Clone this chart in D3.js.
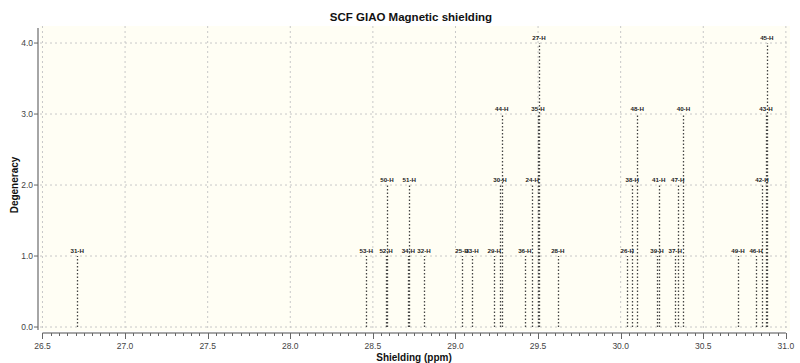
<!DOCTYPE html>
<html><head><meta charset="utf-8">
<script src="https://cdn.jsdelivr.net/npm/d3@7"></script>
<style>body{margin:0;background:#fff}svg{display:block;font-family:"Liberation Sans",Arial,sans-serif}</style>
</head><body><svg id="c" width="800" height="363"></svg>
<script>
const labels = ["31-H","53-H","52-H","50-H","34-H","51-H","32-H","25-H","33-H","29-H","30-H","44-H","36-H","24-H","35-H","27-H","28-H","26-H","38-H","48-H","39-H","41-H","37-H","47-H","40-H","49-H","46-H","42-H","43-H","45-H"];
const shielding = [26.71,28.46,28.58,28.585,28.715,28.72,28.81,29.04,29.10,29.235,29.27,29.28,29.42,29.465,29.50,29.505,29.62,30.04,30.07,30.10,30.22,30.23,30.33,30.345,30.38,30.71,30.82,30.855,30.88,30.885];
const degeneracy = [1,1,1,2,1,2,1,1,1,1,2,3,1,2,3,4,1,1,2,3,1,2,1,2,3,1,1,2,3,4];
const xTicks = [26.5,27.0,27.5,28.0,28.5,29.0,29.5,30.0,30.5,31.0];
const yTicks = [0,1,2,3,4];

const svg = d3.select("#c");
const L=40,R=790,T=26,B=331;
const x = d3.scaleLinear().domain([26.485,31.025]).range([L,R]);
const y = d3.scaleLinear().domain([-0.056,4.24]).range([B,T]);

svg.append("rect").attr("x",L).attr("y",T).attr("width",R-L).attr("height",B-T).attr("fill","#fffef4");

// grid
const g = svg.append("g");
g.selectAll("line.vx").data(xTicks).join("line")
 .attr("x1",d=>x(d)).attr("x2",d=>x(d)).attr("y1",T).attr("y2",B)
 .attr("stroke","#c8c8c8").attr("stroke-dasharray","2,3");
g.selectAll("line.hy").data(yTicks).join("line")
 .attr("x1",L).attr("x2",R).attr("y1",d=>y(d)).attr("y2",d=>y(d))
 .attr("stroke","#c8c8c8").attr("stroke-dasharray","2,3");

// peaks
const peaks = labels.map((l,i)=>({l, s:shielding[i], d:degeneracy[i]}));
svg.append("g").selectAll("line").data(peaks).join("line")
 .attr("x1",d=>Math.round(x(d.s))+0.5).attr("x2",d=>Math.round(x(d.s))+0.5)
 .attr("y1",y(0)).attr("y2",d=>y(d.d))
 .attr("stroke","#444").attr("stroke-width",1.3).attr("stroke-dasharray","1.5,2");
svg.append("g").selectAll("text").data(peaks).join("text")
 .attr("x",d=>x(d.s)).attr("y",d=>y(d.d)-3)
 .attr("text-anchor","middle").attr("font-size",6.2).attr("font-weight","bold").attr("fill","#222")
 .text(d=>d.l);

// y axis
const ya = svg.append("g").attr("transform","translate(38,0)");
ya.append("line").attr("x1",0).attr("x2",0).attr("y1",28).attr("y2",330).attr("stroke","#888").attr("stroke-width",1.5);
ya.selectAll("line.t").data(yTicks).join("line").attr("class","t")
 .attr("x1",-4).attr("x2",0).attr("y1",d=>y(d)).attr("y2",d=>y(d)).attr("stroke","#666");
ya.selectAll("text").data(yTicks).join("text")
 .attr("x",-5).attr("y",d=>y(d)+3).attr("text-anchor","end").attr("font-size",8.5).attr("fill","#444")
 .text(d=>d3.format(".1f")(d));

// x axis
const xa = svg.append("g").attr("transform","translate(0,333)");
xa.append("line").attr("x1",x(26.5)).attr("x2",x(31.0)).attr("y1",0).attr("y2",0).attr("stroke","#888").attr("stroke-width",1.5);
const minor = d3.range(0,91).map(i=>26.5+i*0.05);
xa.selectAll("line.m").data(minor).join("line")
 .attr("x1",d=>Math.round(x(d))+0.5).attr("x2",d=>Math.round(x(d))+0.5).attr("y1",0).attr("y2",3).attr("stroke","#666");
xa.selectAll("line.M").data(xTicks).join("line")
 .attr("x1",d=>Math.round(x(d))+0.5).attr("x2",d=>Math.round(x(d))+0.5).attr("y1",0).attr("y2",6).attr("stroke","#666");
xa.selectAll("text").data(xTicks).join("text")
 .attr("x",d=>x(d)).attr("y",16).attr("text-anchor","middle").attr("font-size",8.5).attr("fill","#444")
 .text(d=>d3.format(".1f")(d));

// titles
svg.append("text").attr("x",411).attr("y",21).attr("text-anchor","middle").attr("font-size",11.5).attr("font-weight","bold").attr("fill","#111").text("SCF GIAO Magnetic shielding");
svg.append("text").attr("x",414).attr("y",361).attr("text-anchor","middle").attr("font-size",10).attr("font-weight","bold").attr("fill","#111").text("Shielding (ppm)");
svg.append("text").attr("transform","translate(18,185) rotate(-90)").attr("text-anchor","middle").attr("font-size",10).attr("font-weight","bold").attr("fill","#111").text("Degeneracy");
</script></body></html>
